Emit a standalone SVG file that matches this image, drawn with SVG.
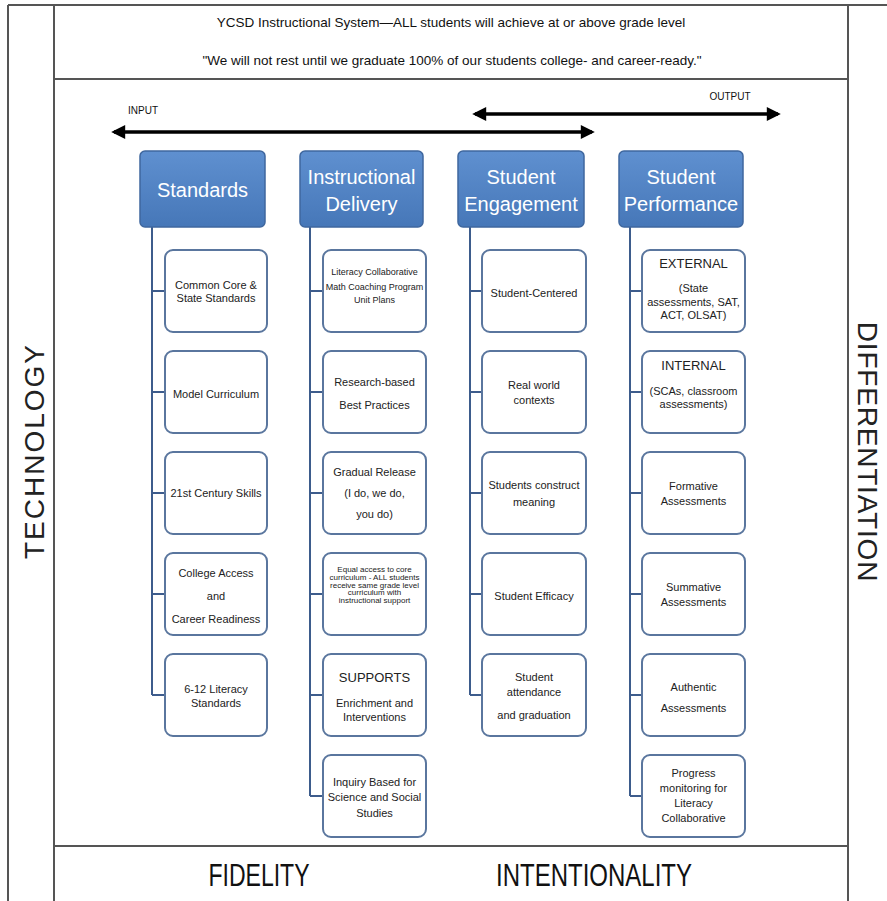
<svg xmlns="http://www.w3.org/2000/svg" width="887" height="901" viewBox="0 0 887 901">
<defs>
<linearGradient id="hg" x1="0" y1="0" x2="0" y2="1">
<stop offset="0" stop-color="#5f90d0"/>
<stop offset="1" stop-color="#4677b8"/>
</linearGradient>
<marker id="ah" viewBox="0 0 10 10" refX="8" refY="5" markerWidth="5" markerHeight="4" orient="auto-start-reverse" markerUnits="strokeWidth">
<path d="M0,0 L10,5 L0,10 z" fill="#000"/>
</marker>
<style>
.frame{stroke:#555;stroke-width:2;fill:none}
.hdr{fill:url(#hg);stroke:#3f679e;stroke-width:1.5}
.box{fill:#fff;stroke:#5a769e;stroke-width:2}
.conn{stroke:#3d5c8c;stroke-width:2;fill:none}
.arr{stroke:#000;stroke-width:3.5;fill:none}
.ht{font-family:"Liberation Sans",Arial,sans-serif;font-size:20px;fill:#fff;text-anchor:middle}
.t{font-family:"Liberation Sans",Arial,sans-serif;font-size:11px;fill:#222;text-anchor:middle}
.s{font-size:9px}
.xs{font-size:8px}
.b{font-size:13px}
.top{font-family:"Liberation Sans",Arial,sans-serif;font-size:13.5px;fill:#111;text-anchor:middle}
.lbl{font-family:"Liberation Sans",Arial,sans-serif;font-size:10px;fill:#111;text-anchor:middle}
.side{font-family:"Liberation Sans",Arial,sans-serif;font-size:28px;fill:#222;text-anchor:middle}
.foot{font-family:"Liberation Sans",Arial,sans-serif;font-size:32px;fill:#111;text-anchor:middle}
</style>
</defs>
<rect width="887" height="901" fill="#fff"/>
<g id="frame">
<line class="frame" x1="8" y1="5" x2="887" y2="5"/>
<line class="frame" x1="8" y1="5" x2="8" y2="901"/>
<line class="frame" x1="54" y1="5" x2="54" y2="901"/>
<line class="frame" x1="848" y1="5" x2="848" y2="901"/>
<line class="frame" x1="54" y1="79" x2="848" y2="79"/>
<line class="frame" x1="54" y1="846" x2="848" y2="846"/>
</g>
<g id="title">
<text class="top" x="451" y="27">YCSD Instructional System—ALL students will achieve at or above grade level</text>
<text class="top" x="452" y="65">"We will not rest until we graduate 100% of our students college- and career-ready."</text>
</g>
<g id="sides">
<text class="side" letter-spacing="2" transform="translate(44,451) rotate(-90)">TECHNOLOGY</text>
<text class="side" letter-spacing="0.8" transform="translate(858,452) rotate(90)">DIFFERENTIATION</text>
<text class="foot" transform="translate(259,886) scale(0.72,1)">FIDELITY</text>
<text class="foot" transform="translate(594,886) scale(0.75,1)">INTENTIONALITY</text>
</g>
<g id="flow-arrows">
<line class="arr" x1="114" y1="132" x2="592" y2="132" marker-start="url(#ah)" marker-end="url(#ah)"/>
<line class="arr" x1="475" y1="114" x2="778" y2="114" marker-start="url(#ah)" marker-end="url(#ah)"/>
<text class="lbl" x="143" y="114">INPUT</text>
<text class="lbl" x="730" y="100">OUTPUT</text>
</g>
<g id="connectors">
<path class="conn" d="M152,227 V695 M152,291 H165 M152,392 H165 M152,493 H165 M152,594 H165 M152,695 H165"/>
<path class="conn" d="M310,227 V796 M310,291 H323 M310,392 H323 M310,493 H323 M310,594 H323 M310,695 H323 M310,796 H323"/>
<path class="conn" d="M470,227 V695 M470,291 H482 M470,392 H482 M470,493 H482 M470,594 H482 M470,695 H482"/>
<path class="conn" d="M630,227 V796 M630,291 H642 M630,392 H642 M630,493 H642 M630,594 H642 M630,695 H642 M630,796 H642"/>
</g>
<g id="h-standards"><rect class="hdr" x="140" y="151" width="125" height="76" rx="5"/><text class="ht" x="202.5" y="197">Standards</text></g>
<g id="h-instructional"><rect class="hdr" x="300" y="151" width="123" height="76" rx="5"/><text class="ht" x="361.5" y="184">Instructional</text><text class="ht" x="361.5" y="211">Delivery</text></g>
<g id="h-engagement"><rect class="hdr" x="458" y="151" width="126" height="76" rx="5"/><text class="ht" x="521" y="184">Student</text><text class="ht" x="521" y="211">Engagement</text></g>
<g id="h-performance"><rect class="hdr" x="619" y="151" width="124" height="76" rx="5"/><text class="ht" x="681" y="184">Student</text><text class="ht" x="681" y="211">Performance</text></g>

<g id="s1"><rect class="box" x="165" y="250" width="102" height="82" rx="8"/><text class="t" x="216" y="289">Common Core &amp;</text><text class="t" x="216" y="302">State Standards</text></g>
<g id="s2"><rect class="box" x="165" y="351" width="102" height="82" rx="8"/><text class="t" x="216" y="398">Model Curriculum</text></g>
<g id="s3"><rect class="box" x="165" y="452" width="102" height="82" rx="8"/><text class="t" x="216" y="497">21st Century Skills</text></g>
<g id="s4"><rect class="box" x="165" y="553" width="102" height="82" rx="8"/><text class="t" x="216" y="577">College Access</text><text class="t" x="216" y="600">and</text><text class="t" x="216" y="623">Career Readiness</text></g>
<g id="s5"><rect class="box" x="165" y="654" width="102" height="82" rx="8"/><text class="t" x="216" y="693">6-12 Literacy</text><text class="t" x="216" y="707">Standards</text></g>

<g id="i1"><rect class="box" x="323" y="250" width="103" height="82" rx="8"/><text class="t s" x="374.5" y="275">Literacy Collaborative</text><text class="t s" x="374.5" y="290">Math Coaching Program</text><text class="t s" x="374.5" y="303">Unit Plans</text></g>
<g id="i2"><rect class="box" x="323" y="351" width="103" height="82" rx="8"/><text class="t" x="374.5" y="386">Research-based</text><text class="t" x="374.5" y="409">Best Practices</text></g>
<g id="i3"><rect class="box" x="323" y="452" width="103" height="82" rx="8"/><text class="t" x="374.5" y="476">Gradual Release</text><text class="t" x="374.5" y="497">(I do, we do,</text><text class="t" x="374.5" y="518">you do)</text></g>
<g id="i4"><rect class="box" x="323" y="553" width="103" height="82" rx="8"/><text class="t xs" x="374.5" y="572">Equal access to core</text><text class="t xs" x="374.5" y="580">curriculum - ALL students</text><text class="t xs" x="374.5" y="587.5">receive same grade level</text><text class="t xs" x="374.5" y="595">curriculum with</text><text class="t xs" x="374.5" y="602.5">instructional support</text></g>
<g id="i5"><rect class="box" x="323" y="654" width="103" height="82" rx="8"/><text class="t b" x="374.5" y="682">SUPPORTS</text><text class="t" x="374.5" y="707">Enrichment and</text><text class="t" x="374.5" y="721">Interventions</text></g>
<g id="i6"><rect class="box" x="323" y="755" width="103" height="82" rx="8"/><text class="t" x="374.5" y="786">Inquiry Based for</text><text class="t" x="374.5" y="801">Science and Social</text><text class="t" x="374.5" y="817">Studies</text></g>

<g id="e1"><rect class="box" x="482" y="250" width="104" height="82" rx="8"/><text class="t" x="534" y="297">Student-Centered</text></g>
<g id="e2"><rect class="box" x="482" y="351" width="104" height="82" rx="8"/><text class="t" x="534" y="389">Real world</text><text class="t" x="534" y="404">contexts</text></g>
<g id="e3"><rect class="box" x="482" y="452" width="104" height="82" rx="8"/><text class="t" x="534" y="489">Students construct</text><text class="t" x="534" y="506">meaning</text></g>
<g id="e4"><rect class="box" x="482" y="553" width="104" height="82" rx="8"/><text class="t" x="534" y="600">Student Efficacy</text></g>
<g id="e5"><rect class="box" x="482" y="654" width="104" height="82" rx="8"/><text class="t" x="534" y="681">Student</text><text class="t" x="534" y="696">attendance</text><text class="t" x="534" y="719">and graduation</text></g>

<g id="p1"><rect class="box" x="642" y="250" width="103" height="82" rx="8"/><text class="t b" x="693.5" y="268">EXTERNAL</text><text class="t" x="693.5" y="292">(State</text><text class="t" x="693.5" y="306">assessments, SAT,</text><text class="t" x="693.5" y="319">ACT, OLSAT)</text></g>
<g id="p2"><rect class="box" x="642" y="351" width="103" height="82" rx="8"/><text class="t b" x="693.5" y="370">INTERNAL</text><text class="t" x="693.5" y="395">(SCAs, classroom</text><text class="t" x="693.5" y="408">assessments)</text></g>
<g id="p3"><rect class="box" x="642" y="452" width="103" height="82" rx="8"/><text class="t" x="693.5" y="490">Formative</text><text class="t" x="693.5" y="505">Assessments</text></g>
<g id="p4"><rect class="box" x="642" y="553" width="103" height="82" rx="8"/><text class="t" x="693.5" y="591">Summative</text><text class="t" x="693.5" y="606">Assessments</text></g>
<g id="p5"><rect class="box" x="642" y="654" width="103" height="82" rx="8"/><text class="t" x="693.5" y="691">Authentic</text><text class="t" x="693.5" y="712">Assessments</text></g>
<g id="p6"><rect class="box" x="642" y="755" width="103" height="82" rx="8"/><text class="t" x="693.5" y="777">Progress</text><text class="t" x="693.5" y="792">monitoring for</text><text class="t" x="693.5" y="807">Literacy</text><text class="t" x="693.5" y="822">Collaborative</text></g>
</svg>
